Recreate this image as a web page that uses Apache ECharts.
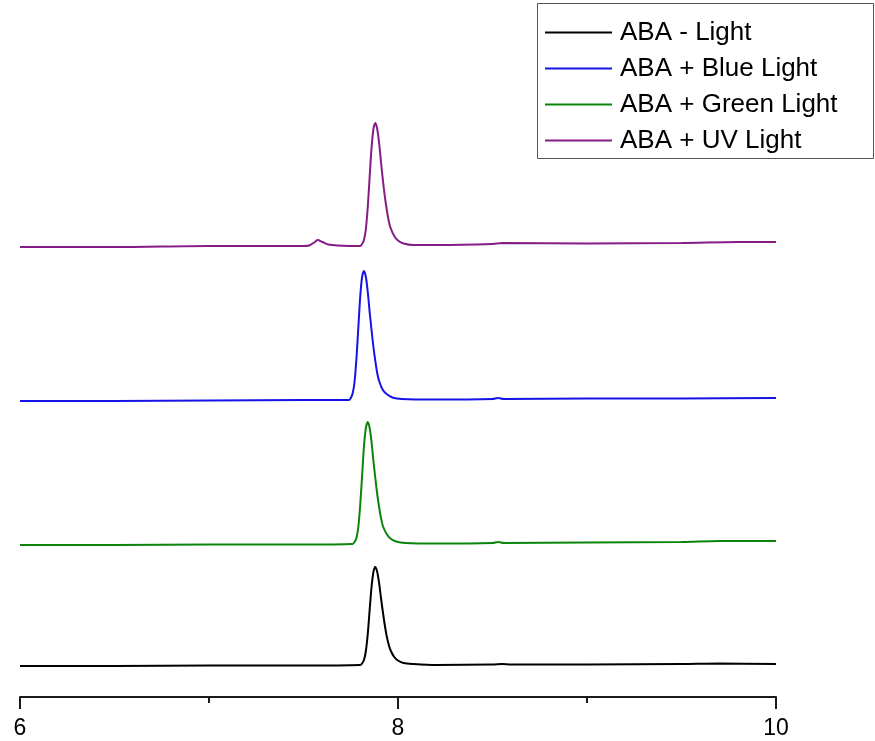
<!DOCTYPE html>
<html>
<head>
<meta charset="utf-8">
<script src="https://cdn.jsdelivr.net/npm/echarts@6/dist/echarts.min.js"></script>
<style>
    html, body { margin: 0; padding: 0; background: #fff; }
    #main { width: 875px; height: 741px; }
</style>
</head>
<body>
<div id="main"></div>
<script>
    // traces as plotted (stacked)
    var seriesNames = ['ABA - Light', 'ABA + Blue Light', 'ABA + Green Light', 'ABA + UV Light'];

    var darkTime = [6.0, 6.5, 7.0, 7.5, 7.80, 7.81, 7.82, 7.83, 7.84, 7.85, 7.86, 7.87, 7.88, 7.89, 7.90, 7.91,
        7.92, 7.93, 7.94, 7.95, 7.96, 7.98, 8.00, 8.03, 8.08, 8.2, 8.5, 8.55, 8.6, 9.0, 9.5, 9.7, 10.0];
    var darkSignal = [31, 31, 31.5, 31.5, 32, 33.5, 37, 46, 63, 87, 110, 125, 130, 125, 114, 99,
        85, 72, 61, 53, 47, 40, 36.5, 34, 33, 32, 32.5, 33, 32.5, 32.5, 33, 33.5, 33];

    var blueTime = [6.0, 6.5, 7.0, 7.5, 7.74, 7.75, 7.76, 7.77, 7.78, 7.79, 7.80, 7.81, 7.82, 7.83, 7.84, 7.85,
        7.86, 7.87, 7.88, 7.89, 7.90, 7.92, 7.94, 7.97, 8.02, 8.2, 8.5, 8.53, 8.56, 9.0, 9.5, 10.0];
    var blueSignal = [296, 296, 296.5, 297, 297, 299, 303.5, 315, 338, 369, 400, 420, 426, 420, 405, 385,
        367, 350, 336, 324, 316, 307, 303, 299.5, 298, 297.5, 298, 299, 298, 298.5, 298.5, 299];

    var greenTime = [6.0, 6.5, 7.0, 7.5, 7.76, 7.77, 7.78, 7.79, 7.80, 7.81, 7.82, 7.83, 7.84, 7.85, 7.86, 7.87,
        7.88, 7.89, 7.90, 7.91, 7.92, 7.94, 7.96, 7.99, 8.04, 8.2, 8.5, 8.53, 8.56, 9.0, 9.5, 9.7, 10.0];
    var greenSignal = [152, 152, 152.5, 152.5, 153, 155, 159, 170, 192, 221, 251, 269, 275, 269, 255, 236,
        219, 203, 190, 179, 171, 163, 158.5, 155.5, 154, 153.5, 154, 155, 154, 154.5, 155, 156, 156];

    var uvTime = [6.0, 6.5, 7.0, 7.5, 7.53, 7.56, 7.575, 7.60, 7.63, 7.68, 7.80, 7.81, 7.82, 7.83, 7.84, 7.85,
        7.86, 7.87, 7.88, 7.89, 7.90, 7.91, 7.92, 7.93, 7.94, 7.95, 7.96, 7.98, 8.00, 8.03, 8.08, 8.2, 8.5,
        8.55, 9.0, 9.5, 9.8, 10.0];
    var uvSignal = [450, 450, 451, 451, 451.5, 455, 457, 455, 452.5, 451.5, 451, 453, 457, 468, 490, 520,
        549, 568, 574, 568, 554, 535, 517, 501, 488, 477, 469.5, 461, 456.5, 453.5, 452, 452, 453,
        454, 453.5, 454, 455, 455];

    var xTicks = [6, 8, 10];
    var colors = ['#000000', '#1414e6', '#0a850a', '#861c86'];

    function pairs(t, v) {
        return t.map(function(x, i) { return [x, v[i]]; });
    }

    var traces = [pairs(darkTime, darkSignal), pairs(blueTime, blueSignal),
        pairs(greenTime, greenSignal), pairs(uvTime, uvSignal)];

    var chart = echarts.init(document.getElementById('main'), null, { renderer: 'canvas' });

    var option = {
        animation: false,
        backgroundColor: '#ffffff',
        grid: { left: 20, right: 99, top: 20, bottom: 44, containLabel: false },
        // legend frame drawn separately so its size matches the original
        graphic: [{
            type: 'rect',
            left: 537,
            top: 3,
            shape: { width: 336, height: 155 },
            style: { fill: '#fff', stroke: '#555', lineWidth: 1 },
            z: 0
        }],
        legend: {
            left: 545,
            top: 19,
            orient: 'vertical',
            data: seriesNames,
            icon: 'rect',
            itemWidth: 67,
            itemHeight: 2,
            itemGap: 9,
            padding: 0,
            z: 10,
            textStyle: {
                fontFamily: 'Liberation Sans, Arial, sans-serif',
                fontSize: 26,
                lineHeight: 27,
                color: '#000',
                padding: [0, 0, 0, 3]
            }
        },
        xAxis: {
            type: 'value',
            min: 6,
            max: 10,
            interval: 2,
            axisLine: { show: true, lineStyle: { color: '#1a1a1a', width: 2 } },
            axisTick: { show: true, length: 12, lineStyle: { color: '#1a1a1a', width: 2 } },
            minorTick: { show: true, splitNumber: 2, length: 6, lineStyle: { color: '#1a1a1a', width: 2 } },
            splitLine: { show: false },
            axisLabel: {
                margin: 20,
                fontFamily: 'Liberation Sans, Arial, sans-serif',
                fontSize: 23,
                color: '#000',
                formatter: function(v) { return xTicks.indexOf(v) >= 0 ? String(v) : ''; }
            }
        },
        yAxis: {
            type: 'value',
            min: 0,
            max: 677,
            show: false,
            splitLine: { show: false }
        },
        series: seriesNames.map(function(name, i) {
            return {
                name: name,
                type: 'line',
                data: traces[i],
                showSymbol: false,
                smooth: 0.3,
                color: colors[i],
                lineStyle: { color: colors[i], width: 2 }
            };
        })
    };

    chart.setOption(option);
</script>
</body>
</html>
